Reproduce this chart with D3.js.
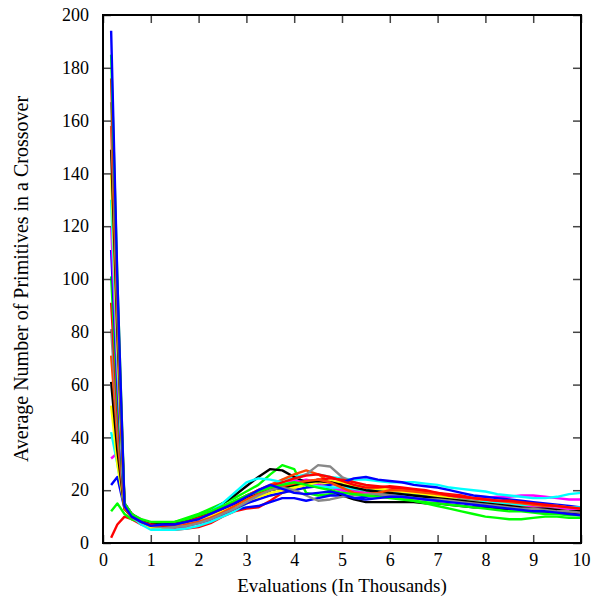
<!DOCTYPE html>
<html>
<head>
<meta charset="utf-8">
<script src="https://cdn.jsdelivr.net/npm/d3@7"></script>
<style>
    body { margin: 0; background: #fff; }
    text { font-family: "Liberation Serif", "Times New Roman", serif; }
</style>
</head>
<body>
<div id="chart"></div>
<script>
//Evaluation points (in thousands)
var evals = [0.17, 0.3, 0.45, 0.6, 0.8, 1.0,
    1.25, 1.5, 1.75, 2.0, 2.25, 2.5, 2.75, 3.0, 3.25, 3.5,
    3.75, 4.0, 4.25, 4.5, 4.75, 5.0, 5.25, 5.5, 5.75, 6.0,
    6.25, 6.5, 6.75, 7.0, 7.25, 7.5, 7.75, 8.0, 8.25, 8.5,
    8.75, 9.0, 9.25, 9.5, 9.75, 10.0];

//Line colours, cycled over the runs
var runColors = ["#ff0000", "#00ff00", "#0000ff", "#ff00ff", "#00ffff",
    "#ffff00", "#000000", "#ff4500", "#888888"];

//Tick labels
var xTicks = [0, 1, 2, 3, 4, 5, 6, 7, 8, 9, 10];
var yTicks = [0, 20, 40, 60, 80, 100, 120, 140, 160, 180, 200];

//One array per run
var run0 = [2, 7, 10, 9, 7, 6, 5, 5, 5.5, 6, 7.5, 10, 12, 13, 13.5, 16, 19, 21, 23, 24, 23, 22, 21, 20, 20, 19.5, 19, 18, 17.5, 17, 16.5, 16, 15, 14.5, 14, 14, 13.5, 13, 13, 12.5, 12, 12];
var run1 = [12, 15, 11, 9, 8, 7, 7, 8, 9.5, 11, 13, 15, 17, 19.5, 22, 26, 29.5, 28, 19, 18, 18.5, 19, 19, 18.5, 18, 18, 18, 17.5, 17, 16.5, 16, 15.5, 15, 14.5, 14, 14, 13.5, 13, 12.5, 12.5, 12, 12];
var run2 = [22, 25, 13, 10, 8, 6.5, 6.5, 7, 7, 8, 9.5, 11, 12.5, 13.5, 14, 15.5, 17, 17, 16, 17, 18, 18, 17, 17.5, 18, 18, 18, 17.5, 17, 16.5, 16, 15.5, 15, 14.5, 14, 13.5, 13, 12.5, 12, 12, 11, 11];
var run3 = [32, 34, 15, 11, 9, 6, 5.5, 6, 7, 8, 10, 12, 14, 16, 19, 21, 22, 23, 24, 23, 21, 20, 19, 19, 19.5, 20, 19.5, 19, 18.5, 18, 17.5, 17, 17, 17, 17.5, 17.5, 18, 18, 17.5, 17, 16.5, 16.5];
var run4 = [42, 30, 14, 10, 7, 5, 5, 5, 5.5, 6.5, 8, 10, 12, 15, 18, 21, 24, 25, 26, 26, 25, 24.5, 24, 24, 23.5, 23, 23, 23, 22.5, 22, 21, 20.5, 20, 19.5, 18.5, 18, 17.5, 17, 17, 17.5, 18.5, 19];
var run5 = [52, 30, 13, 10, 8, 6, 6, 6.5, 7, 8, 9.5, 11, 13, 15, 17, 18, 19, 20, 21, 22, 22.5, 22, 21.5, 21, 20.5, 20, 19.5, 19, 18.5, 18, 17, 16.5, 16, 15.5, 15, 14.5, 14, 13.5, 13, 12.5, 12, 12];
var run6 = [61, 35, 13, 10, 8, 7, 6.5, 7, 8, 10, 12, 15, 18, 21.5, 25, 28, 27.5, 25, 23, 22, 20, 18, 16.5, 15.5, 15.5, 15.5, 15.5, 15.5, 15, 15, 14.5, 14, 13.5, 13.5, 13, 13, 12.5, 12, 12, 11.5, 11, 11];
var run7 = [71, 40, 13, 10, 8, 6.5, 6, 6.5, 7.5, 9, 11, 13, 15.5, 18, 20, 22, 24, 26, 27.5, 26, 23, 21, 20, 19.5, 19, 19, 18.5, 18, 17.5, 17, 16.5, 16, 15.5, 15, 14.5, 14, 13.5, 13.5, 13, 12.5, 12, 11.5];
var run8 = [81, 45, 14, 11, 8.5, 7, 6.5, 6.5, 7, 8, 9.5, 11, 13, 15, 17.5, 20, 22, 24, 26, 29.5, 29, 25, 23, 21.5, 20.5, 19.5, 19, 18.5, 18, 17.5, 17, 16.5, 16, 15.5, 15, 14.5, 14, 13.5, 13, 12.5, 12.5, 12.5];
var run9 = [91, 50, 14, 10, 8, 6.5, 6, 6, 7, 8, 10, 12, 14, 16, 18, 20, 21, 22, 23, 24, 24.5, 24, 23, 22, 21.5, 21, 20.5, 20, 19.5, 19, 18.5, 18, 17, 16.5, 16, 15.5, 15, 15, 14.5, 14, 13.5, 13];
var run10 = [101, 55, 14, 10, 8, 7, 7, 7.5, 8.5, 10, 12, 13.5, 15, 17, 18.5, 20, 21, 21.5, 22, 21.5, 21, 20, 19.5, 19, 18.5, 18, 17, 16, 15, 14, 13, 12, 11, 10, 9.5, 9, 9, 9.5, 10, 10, 9.5, 9.5];
var run11 = [111, 60, 14, 10, 8, 7, 6.5, 6, 6.5, 7.5, 9, 11, 13, 15, 16.5, 18, 19, 20, 21, 21.5, 22, 23, 24.5, 25, 24, 23.5, 23, 22, 21.5, 21, 20, 19, 18, 17.5, 17, 16.5, 16, 15.5, 15, 14.5, 14, 13.5];
var run12 = [120, 66, 15, 11, 8, 6.5, 6, 6.5, 7, 8.5, 10, 12, 14.5, 17, 19.5, 21.5, 22.5, 23.5, 23, 22, 21, 20, 19.5, 19, 18.5, 18, 17.5, 17, 16.5, 16, 15.5, 15.5, 15, 14.5, 14.5, 14, 14, 13.5, 13.5, 13, 13, 12.5];
var run13 = [130, 70, 14, 10, 7.5, 6, 5.5, 6, 7.5, 9.5, 12, 15, 19, 23, 24.5, 24, 23, 22.5, 22, 21.5, 21, 21, 20.5, 20, 19.5, 19, 18.5, 18, 17.5, 17, 16.5, 16, 15.5, 15.5, 15, 15, 14.5, 14.5, 14, 14, 13.5, 13.5];
var run14 = [140, 75, 14, 10, 8, 6, 6, 6.5, 7.5, 9, 10.5, 12, 14, 16, 17.5, 19, 20, 21, 22, 23, 23.5, 23, 22, 21, 20.5, 20, 19.5, 19, 18.5, 17.5, 17, 16, 15.5, 15, 14.5, 14, 13.5, 13, 12.5, 12.5, 12, 12];
var run15 = [149, 80, 15, 11, 8.5, 7, 7, 7.5, 8.5, 10, 11.5, 13, 15, 17, 18.5, 20, 21, 22, 23, 23.5, 23, 22, 21, 20, 19.5, 19, 18.5, 18, 17.5, 17, 16.5, 16, 15.5, 15, 14.5, 14, 13.5, 13, 13, 12.5, 12, 12];
var run16 = [158, 85, 14, 10, 8, 6.5, 6, 6, 7, 8, 9.5, 11.5, 14, 16.5, 18.5, 20, 21.5, 22.5, 23.5, 24, 23, 21, 19, 18.5, 19, 20, 20, 19.5, 19, 18.5, 18, 17.5, 17, 16.5, 16, 15.5, 15, 14.5, 14, 14, 13.5, 13];
var run17 = [167, 90, 15, 11, 8, 6.5, 6, 6, 6.5, 7.5, 9, 11, 13, 15.5, 18, 20, 21, 20, 18, 16, 16.5, 17.5, 18, 18.5, 18.5, 18, 17.5, 17, 16.5, 16.5, 16, 15.5, 15, 14.5, 14, 13.5, 13, 13, 12.5, 12, 12, 11.5];
var run18 = [176, 95, 14, 10, 8, 7, 6.5, 7, 8, 9.5, 11, 13, 15.5, 18, 20, 21.5, 23, 24.5, 25.5, 26, 25, 23.5, 22, 21, 21, 21.5, 21, 20.5, 20, 19, 18, 17.5, 17, 16.5, 16, 16, 15.5, 15, 14.5, 14, 13.5, 13];
var run19 = [185, 100, 15, 11, 9, 8, 8, 8, 9, 10.5, 12, 14, 16, 18, 19.5, 21, 22, 23, 22, 21, 20, 19, 18.5, 18, 17.5, 17, 16.5, 16, 15.5, 15, 14.5, 14, 13.5, 13, 12.5, 12, 12, 11.5, 11, 11, 10.5, 10.5];
var run20 = [194, 100, 14, 10, 8, 6.5, 7, 7, 8, 9, 11, 13, 15, 17.5, 20, 22, 20.5, 19, 18.5, 19, 19.5, 18.5, 17, 16.5, 17, 17.5, 17.5, 17, 16.5, 16, 15.5, 15, 14.5, 14, 13.5, 13, 12.5, 12, 12, 11.5, 11, 10.5];

var runs = [run0, run1, run2, run3, run4, run5, run6, run7, run8, run9, run10,
    run11, run12, run13, run14, run15, run16, run17, run18, run19, run20];

//Define SVG area
var svgWidth = 593;
var svgHeight = 603;

//Define chart margins
var chartMargin = {
    top: 15,
    right: 12,
    bottom: 60,
    left: 103
};

var chartWidth = svgWidth - chartMargin.left - chartMargin.right;
var chartHeight = svgHeight - chartMargin.top - chartMargin.bottom;

var svg = d3.select("#chart")
    .append("svg")
    .attr("width", svgWidth)
    .attr("height", svgHeight);

var chartGroup = svg.append("g")
    .attr("transform", `translate(${chartMargin.left}, ${chartMargin.top})`);

//Scales
var xScale = d3.scaleLinear().domain([0, 10]).range([0, chartWidth]);
var yScale = d3.scaleLinear().domain([0, 200]).range([chartHeight, 0]);

//Lines
var line = d3.line()
    .x((d, i) => xScale(evals[i]))
    .y(d => yScale(d));

chartGroup.selectAll(".run")
    .data(runs)
    .enter()
    .append("path")
    .attr("class", "run")
    .attr("d", line)
    .attr("fill", "none")
    .attr("stroke", (d, i) => runColors[i % runColors.length])
    .attr("stroke-width", 2.4)
    .attr("stroke-linejoin", "round");

//Axes, ticks point inward and are mirrored on top and right
var tickLen = 8;

var bottomAxis = chartGroup.append("g")
    .attr("transform", `translate(0, ${chartHeight})`)
    .call(d3.axisBottom(xScale).tickValues(xTicks).tickSizeInner(-tickLen).tickSizeOuter(0).tickPadding(10));

var topAxis = chartGroup.append("g")
    .call(d3.axisTop(xScale).tickValues(xTicks).tickSizeInner(-tickLen).tickSizeOuter(0).tickFormat(""));

var leftAxis = chartGroup.append("g")
    .call(d3.axisLeft(yScale).tickValues(yTicks).tickSizeInner(-tickLen).tickSizeOuter(0).tickPadding(14));

var rightAxis = chartGroup.append("g")
    .attr("transform", `translate(${chartWidth}, 0)`)
    .call(d3.axisRight(yScale).tickValues(yTicks).tickSizeInner(-tickLen).tickSizeOuter(0).tickFormat(""));

[bottomAxis, topAxis, leftAxis, rightAxis].forEach(function(ax) {
    ax.select(".domain").remove();
    ax.selectAll(".tick line").attr("stroke", "#444").attr("stroke-width", 1.5);
    ax.selectAll("text")
        .attr("font-size", 18)
        .attr("fill", "#000")
        .style("font-family", "'Liberation Serif', serif");
});

//Frame
chartGroup.append("rect")
    .attr("width", chartWidth)
    .attr("height", chartHeight)
    .attr("fill", "none")
    .attr("stroke", "#000")
    .attr("stroke-width", 2);

//Axis titles
svg.append("text")
    .attr("x", chartMargin.left + chartWidth / 2)
    .attr("y", 592)
    .attr("text-anchor", "middle")
    .attr("font-size", 19)
    .text("Evaluations (In Thousands)");

svg.append("text")
    .attr("transform", `translate(28, ${chartMargin.top + chartHeight / 2}) rotate(-90)`)
    .attr("text-anchor", "middle")
    .attr("font-size", 20)
    .text("Average Number of Primitives in a Crossover");
</script>
</body>
</html>
